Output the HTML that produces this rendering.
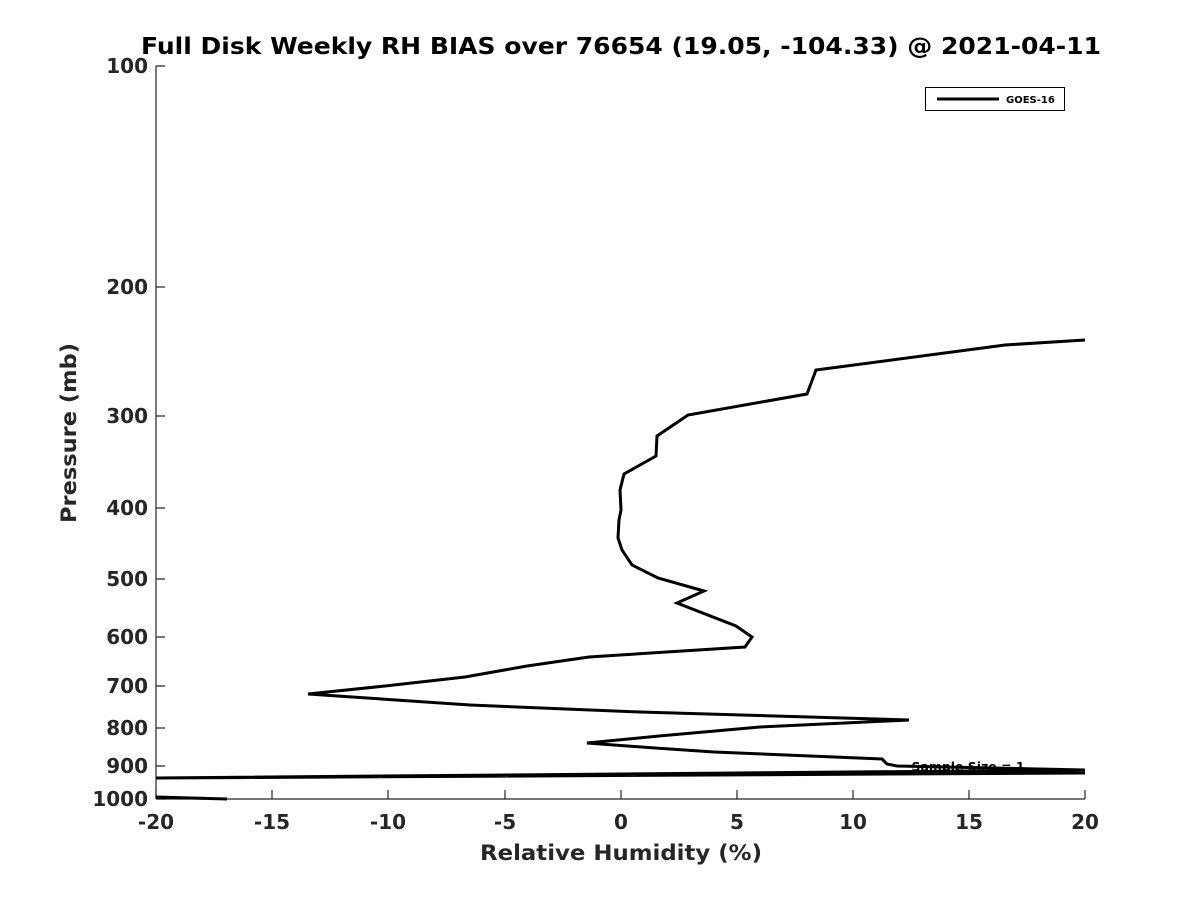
<!DOCTYPE html>
<html><head><meta charset="utf-8"><style>body{margin:0;background:#fff}</style></head><body>
<svg width="1200" height="900" xmlns="http://www.w3.org/2000/svg" font-family="DejaVu Sans, Liberation Sans, sans-serif" font-weight="bold">
<rect width="1200" height="900" fill="#fff"/>
<text x="621" y="54" text-anchor="middle" font-size="23" fill="#000" textLength="960" lengthAdjust="spacingAndGlyphs">Full Disk Weekly RH BIAS over 76654 (19.05, -104.33) @ 2021-04-11</text>
<g stroke="#262626" stroke-width="1.2" fill="none">
<line x1="156" y1="66" x2="156" y2="799"/>
<line x1="156" y1="799" x2="1085" y2="799"/>
<path d="M156 66h9M156 287h9M156 416h9M156 508h9M156 579h9M156 637h9M156 686h9M156 728h9M156 766h9M156 799h9"/>
<path d="M156 799v-9M272 799v-9M388 799v-9M505 799v-9M621 799v-9M737 799v-9M853 799v-9M969 799v-9M1085 799v-9"/>
</g>
<g font-size="20" fill="#262626" text-anchor="end">
<text x="148" y="73">100</text><text x="148" y="294">200</text><text x="148" y="423">300</text><text x="148" y="515">400</text><text x="148" y="586">500</text><text x="148" y="644">600</text><text x="148" y="693">700</text><text x="148" y="735">800</text><text x="148" y="773">900</text><text x="148" y="806">1000</text>
</g>
<g font-size="20" fill="#262626" text-anchor="middle">
<text x="156" y="829">-20</text><text x="272" y="829">-15</text><text x="388" y="829">-10</text><text x="505" y="829">-5</text><text x="621" y="829">0</text><text x="737" y="829">5</text><text x="853" y="829">10</text><text x="969" y="829">15</text><text x="1085" y="829">20</text>
</g>
<text x="621" y="860" text-anchor="middle" font-size="21" fill="#262626" textLength="282" lengthAdjust="spacingAndGlyphs">Relative Humidity (%)</text>
<text transform="translate(76,433) rotate(-90)" text-anchor="middle" font-size="21" fill="#262626" textLength="180" lengthAdjust="spacingAndGlyphs">Pressure (mb)</text>
<polyline fill="none" stroke="#000" stroke-width="3" stroke-linejoin="miter" points="1085,340 1005,345 816,370 807,394 688,415 657,436 656,456 624,474 620,490 621,510 619,520 618,538 622,550 632,565 658,578 704,591 677,603 736,626 752,637 745,647 589,657 527,666 465,677 385,686 308,694 470,705 640,712 909,720 760,727 659,736 587,743 655,748 714,752 882,759 887,764 897,766 1085,770 156,778 1085,773"/>
<polyline fill="none" stroke="#000" stroke-width="3" points="156,797 227,799"/>
<text x="968" y="771" text-anchor="middle" font-size="12" fill="#000" textLength="113" lengthAdjust="spacingAndGlyphs">Sample Size = 1</text>
<rect x="925.5" y="87.5" width="139" height="23" fill="#fff" stroke="#000" stroke-width="1"/>
<line x1="937" y1="99" x2="999" y2="99" stroke="#000" stroke-width="3"/>
<text x="1006" y="103" font-size="10" fill="#000">GOES-16</text>
</svg>
</body></html>
